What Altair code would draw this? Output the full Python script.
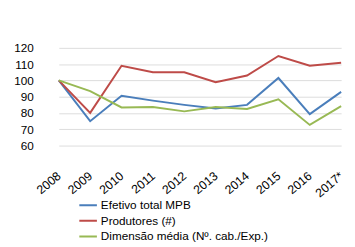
import altair as alt
import pandas as pd

years = ["2008", "2009", "2010", "2011", "2012", "2013", "2014", "2015", "2016", "2017*"]
efetivo = [100, 75, 90.6, 87.6, 85, 82.8, 85, 101.5, 79.3, 93]
produtores = [100, 80.1, 109, 105, 105, 98.9, 103, 115, 109, 110.8]
dimensao = [100, 93.4, 83.4, 83.7, 81, 83.7, 82.5, 88.4, 72.7, 84.2]
series = ["Efetivo total MPB", "Produtores (#)", "Dimensão média (Nº. cab./Exp.)"]
colors = ["#4a7ebb", "#be4b48", "#98b954"]

rows = []
for name, vals in zip(series, [efetivo, produtores, dimensao]):
    for y, v in zip(years, vals):
        rows.append({"Ano": y, "Valor": v, "Serie": name})
df = pd.DataFrame(rows)

font = "Liberation Sans"

chart = alt.Chart(df).mark_line(strokeWidth=2).encode(
    x=alt.X("Ano:O", sort=years,
            scale=alt.Scale(range=[15, 304], padding=0),
            axis=alt.Axis(title=None, labelAngle=-40, labelAlign="right", labelBaseline="middle",
                          domain=False, ticks=False, grid=False, labelFontSize=12.5,
                          labelColor="#000", labelFont=font, labelPadding=29)),
    y=alt.Y("Valor:Q", scale=alt.Scale(domain=[60, 120], nice=False, zero=False),
            axis=alt.Axis(title=None, values=[60, 70, 80, 90, 100, 110, 120], domain=False,
                          ticks=False, gridColor="#dcdcdc", gridWidth=1, labelFontSize=12,
                          labelColor="#000", labelFont=font, labelPadding=11)),
    color=alt.Color("Serie:N", sort=series,
                    scale=alt.Scale(domain=series, range=colors),
                    legend=alt.Legend(title=None, orient="none", legendX=35, legendY=155,
                                      symbolType="stroke", symbolSize=324, symbolStrokeWidth=2,
                                      labelFontSize=12, labelFont=font, labelColor="#000",
                                      labelLimit=400, clipHeight=12, rowPadding=4, labelOffset=3,
                                      direction="vertical")),
).properties(
    width=310, height=100,
    autosize="none",
    padding={"left": 37, "top": 38, "right": 0, "bottom": 100},
).configure_view(stroke=None)

chart.save("out.html", embed_options={"renderer": "svg", "actions": False})
